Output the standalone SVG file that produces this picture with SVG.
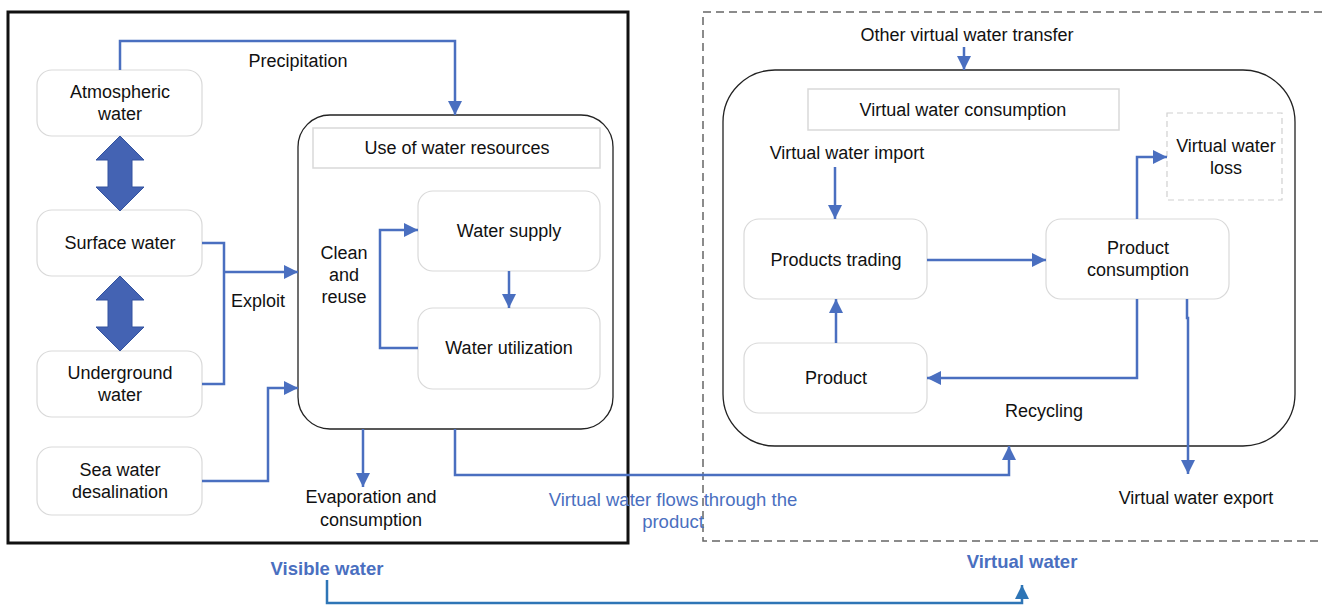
<svg xmlns="http://www.w3.org/2000/svg" width="1322" height="605" viewBox="0 0 1322 605">
<style>
.t{font-family:"Liberation Sans",Arial,sans-serif;font-size:18px;fill:#111;text-anchor:middle}
.tb{font-family:"Liberation Sans",Arial,sans-serif;font-size:18.5px;fill:#4a6fc0;text-anchor:middle}
.tbb{font-family:"Liberation Sans",Arial,sans-serif;font-size:18.5px;font-weight:bold;fill:#4a6fc0;text-anchor:middle}
.node{fill:#fff;stroke:#d9d9d9;stroke-width:1.2}
.big{fill:#fff;stroke:#222;stroke-width:1.3}
.c{fill:none;stroke:#4a6fc0;stroke-width:2.5}
.dbl{fill:#4463b3;stroke:#33529f;stroke-width:1}
</style>
<defs>
<marker id="ah" viewBox="0 0 10 10" refX="10" refY="5" markerWidth="14" markerHeight="14" markerUnits="userSpaceOnUse" orient="auto">
<path d="M0,0 L10,5 L0,10 z" fill="#4a6fc0"/>
</marker>
<marker id="ah2" viewBox="0 0 10 10" refX="10" refY="5" markerWidth="14" markerHeight="14" markerUnits="userSpaceOnUse" orient="auto">
<path d="M0,0 L10,5 L0,10 z" fill="#2e75b6"/>
</marker>
</defs>
<rect width="1322" height="605" fill="#fff"/>
<g id="frames">
<rect x="8" y="12" width="620" height="531" fill="none" stroke="#111" stroke-width="3"/>
<path d="M1322,12 H703 V541 H1322" fill="none" stroke="#666" stroke-width="1.5" stroke-dasharray="8 5"/>
</g>
<g id="use-of-water">
<rect class="big" x="298" y="115" width="315" height="314" rx="32"/>
<rect x="313" y="128" width="287" height="40" fill="#fff" stroke="#d9d9d9" stroke-width="1.5"/>
<text class="t" x="457" y="154">Use of water resources</text>
</g>
<g id="virtual-consumption">
<rect class="big" x="723" y="70" width="572" height="376" rx="52"/>
<rect x="808" y="89" width="311" height="41" fill="#fff" stroke="#d9d9d9" stroke-width="1.5"/>
<text class="t" x="963" y="116">Virtual water consumption</text>
</g>
<g id="atmospheric"><rect class="node" x="37" y="70" width="165" height="66" rx="15"/><text class="t" x="120" y="98">Atmospheric</text><text class="t" x="120" y="120">water</text></g>
<g id="surface"><rect class="node" x="37" y="210" width="165" height="66" rx="15"/><text class="t" x="120" y="249">Surface water</text></g>
<g id="underground"><rect class="node" x="37" y="351" width="165" height="66" rx="15"/><text class="t" x="120" y="379">Underground</text><text class="t" x="120" y="401">water</text></g>
<g id="sea"><rect class="node" x="37" y="447" width="165" height="68" rx="15"/><text class="t" x="120" y="476">Sea water</text><text class="t" x="120" y="498">desalination</text></g>
<g id="water-supply"><rect class="node" x="418" y="191" width="182" height="80" rx="15"/><text class="t" x="509" y="237">Water supply</text></g>
<g id="water-utilization"><rect class="node" x="418" y="308" width="182" height="81" rx="15"/><text class="t" x="509" y="354">Water utilization</text></g>
<g id="products-trading"><rect class="node" x="744" y="219" width="183" height="80" rx="15"/><text class="t" x="836" y="266">Products trading</text></g>
<g id="product-consumption"><rect class="node" x="1046" y="219" width="183" height="80" rx="15"/><text class="t" x="1138" y="254">Product</text><text class="t" x="1138" y="276">consumption</text></g>
<g id="product"><rect class="node" x="744" y="343" width="183" height="70" rx="15"/><text class="t" x="836" y="384">Product</text></g>
<g id="virtual-loss"><rect x="1167" y="113" width="115" height="87" fill="#fff" stroke="#d0d0d0" stroke-width="1.2" stroke-dasharray="6 4"/><text class="t" x="1226" y="152">Virtual water</text><text class="t" x="1226" y="174">loss</text></g>
<g id="exchanges">
<polygon class="dbl" points="120,136 144,160 132,160 132,187 144,187 120,211 96,187 108,187 108,160 96,160"/>
<polygon class="dbl" points="120,276 144,300 132,300 132,327 144,327 120,351 96,327 108,327 108,300 96,300"/>
</g>
<g id="connectors">
<path class="c" d="M120,70 V41 H455 V115" marker-end="url(#ah)"/>
<path class="c" d="M202,243 H224 V384 H202"/>
<path class="c" d="M224,272 H298" marker-end="url(#ah)"/>
<path class="c" d="M202,481 H268 V388 H298" marker-end="url(#ah)"/>
<path class="c" d="M509,271 V308" marker-end="url(#ah)"/>
<path class="c" d="M418,348 H380 V230 H418" marker-end="url(#ah)"/>
<path class="c" d="M363,429 V487" marker-end="url(#ah)"/>
<path class="c" d="M455,429 V475 H1009 V446" marker-end="url(#ah)"/>
<path class="c" d="M964,47 V70" marker-end="url(#ah)"/>
<path class="c" d="M835,167 V219" marker-end="url(#ah)"/>
<path class="c" d="M927,260 H1046" marker-end="url(#ah)"/>
<path class="c" d="M1137,219 V157 H1167" marker-end="url(#ah)"/>
<path class="c" d="M836,343 V299" marker-end="url(#ah)"/>
<path class="c" d="M1137,299 V378 H927" marker-end="url(#ah)"/>
<path class="c" d="M1187,299 V318 H1188 V474" marker-end="url(#ah)"/>
<path fill="none" stroke="#2e75b6" stroke-width="2.5" d="M327,580 V603 H1022 V585" marker-end="url(#ah2)"/>
</g>
<g id="labels">
<text class="t" x="298" y="67">Precipitation</text>
<text class="t" x="258" y="307">Exploit</text>
<text class="t" x="344" y="259">Clean</text>
<text class="t" x="344" y="281">and</text>
<text class="t" x="344" y="303">reuse</text>
<text class="t" x="371" y="503">Evaporation and</text>
<text class="t" x="371" y="526">consumption</text>
<text class="tb" x="673" y="506">Virtual water flows through the</text>
<text class="tb" x="673" y="528">product</text>
<text class="t" x="967" y="41">Other virtual water transfer</text>
<text class="t" x="847" y="159">Virtual water import</text>
<text class="t" x="1044" y="417">Recycling</text>
<text class="t" x="1196" y="504">Virtual water export</text>
<text class="tbb" x="327" y="575">Visible water</text>
<text class="tbb" x="1022" y="568">Virtual water</text>
</g>
</svg>
